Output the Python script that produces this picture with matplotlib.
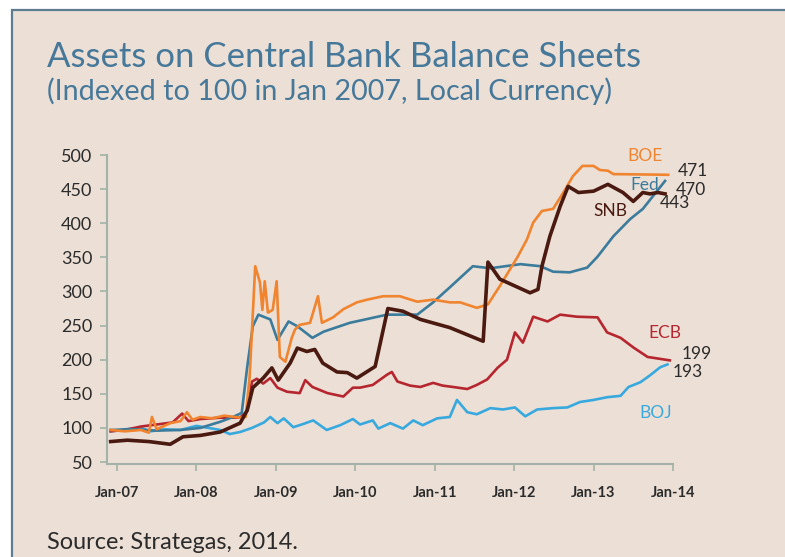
import matplotlib
matplotlib.use('Agg')
import matplotlib.pyplot as plt
from matplotlib import font_manager
from matplotlib.patches import Rectangle

# ---------------- data (decimal years, index values) ----------------
years = [2007, 2008, 2009, 2010, 2011, 2012, 2013, 2014]
year_labels = ["Jan-07", "Jan-08", "Jan-09", "Jan-10", "Jan-11", "Jan-12", "Jan-13", "Jan-14"]
y_ticks = [50, 100, 150, 200, 250, 300, 350, 400, 450, 500]

boj_t = [2006.92, 2007.1, 2007.3, 2007.42, 2007.6, 2007.8, 2008.0, 2008.15, 2008.3, 2008.42,
         2008.55, 2008.7, 2008.85, 2008.93, 2009.02, 2009.1, 2009.22, 2009.35, 2009.47, 2009.64,
         2009.81, 2009.97, 2010.06, 2010.22, 2010.29, 2010.44, 2010.6, 2010.73, 2010.85, 2011.03,
         2011.19, 2011.28, 2011.41, 2011.53, 2011.7, 2011.86, 2012.01, 2012.14, 2012.29, 2012.49,
         2012.67, 2012.83, 2013.0, 2013.17, 2013.34, 2013.44, 2013.59, 2013.71, 2013.84, 2013.93]
boj_v = [95, 98, 100, 95, 98, 97, 103, 100, 97, 91,
         94, 100, 108, 116, 107, 114, 101, 106, 111, 97,
         104, 113, 105, 111, 99, 107, 99, 111, 104, 114,
         116, 141, 123, 120, 129, 127, 130, 117, 127, 129,
         130, 138, 141, 145, 147, 160, 167, 177, 189, 193]

ecb_t = [2006.92, 2007.1, 2007.3, 2007.5, 2007.7, 2007.82, 2007.9, 2008.05, 2008.3, 2008.55,
         2008.64, 2008.70, 2008.76, 2008.84, 2008.93, 2009.02, 2009.14, 2009.3, 2009.37, 2009.46,
         2009.65, 2009.85, 2009.97, 2010.06, 2010.22, 2010.4, 2010.46, 2010.53, 2010.69, 2010.82,
         2010.98, 2011.1, 2011.23, 2011.41, 2011.53, 2011.66, 2011.79, 2011.91, 2012.01, 2012.11,
         2012.24, 2012.42, 2012.58, 2012.79, 2013.05, 2013.17, 2013.34, 2013.5, 2013.68, 2013.96]
ecb_v = [95, 97, 102, 105, 108, 121, 110, 113, 115, 115,
         125, 168, 172, 165, 173, 159, 153, 151, 170, 160,
         151, 146, 159, 159, 163, 178, 182, 168, 162, 160,
         166, 162, 160, 157, 163, 171, 188, 200, 240, 225,
         263, 256, 266, 263, 262, 240, 232, 218, 204, 199]

boe_t = [2006.92, 2007.1, 2007.3, 2007.4, 2007.44, 2007.5, 2007.67, 2007.8, 2007.88, 2007.95,
         2008.05, 2008.2, 2008.35, 2008.55, 2008.62, 2008.67, 2008.74, 2008.80, 2008.83, 2008.86,
         2008.90, 2008.96, 2009.01, 2009.05, 2009.12, 2009.2, 2009.24, 2009.3, 2009.43, 2009.53,
         2009.58, 2009.72, 2009.85, 2010.02, 2010.15, 2010.35, 2010.56, 2010.78, 2010.98, 2011.19,
         2011.32, 2011.53, 2011.67, 2011.82, 2012.04, 2012.16, 2012.24, 2012.35, 2012.49, 2012.62,
         2012.74, 2012.86, 2013.0, 2013.08, 2013.18, 2013.25, 2013.94]
boe_v = [97, 95, 97, 93, 116, 98, 107, 110, 123, 112,
         116, 114, 118, 115, 116, 175, 337, 313, 273, 315,
         269, 273, 315, 204, 197, 232, 244, 251, 254, 293,
         254, 262, 274, 284, 288, 293, 293, 285, 288, 284,
         284, 276, 281, 308, 350, 376, 401, 418, 421, 445,
         469, 484, 484, 478, 477, 472, 471]

fed_t = [2006.92, 2007.2, 2007.5, 2007.8, 2008.05, 2008.3, 2008.46, 2008.57, 2008.64, 2008.71,
         2008.78, 2008.93, 2009.02, 2009.16, 2009.27, 2009.46, 2009.6, 2009.93, 2010.4, 2010.78,
         2010.98, 2011.19, 2011.48, 2011.7, 2012.08, 2012.33, 2012.49, 2012.7, 2012.92, 2013.05,
         2013.25, 2013.46, 2013.62, 2013.75, 2013.9]
fed_v = [97, 98, 96, 97, 100, 109, 116, 122, 190, 249,
         266, 259, 229, 256, 249, 232, 241, 254, 266, 266,
         284, 306, 337, 334, 340, 337, 329, 328, 335, 351,
         381, 406, 421, 440, 462]

snb_t = [2006.92, 2007.13, 2007.4, 2007.67, 2007.83, 2008.05, 2008.3, 2008.55, 2008.64, 2008.71,
         2008.84, 2008.95, 2009.03, 2009.18, 2009.27, 2009.39, 2009.49, 2009.59, 2009.77, 2009.9,
         2010.02, 2010.25, 2010.41, 2010.6, 2010.82, 2011.19, 2011.61, 2011.67, 2011.82, 2012.2,
         2012.3, 2012.35, 2012.45, 2012.58, 2012.68, 2012.81, 2013.0, 2013.18, 2013.37, 2013.5,
         2013.62, 2013.71, 2013.81, 2013.9]
snb_v = [80, 82, 80, 76, 87, 89, 94, 107, 126, 159,
         173, 188, 170, 195, 217, 212, 215, 195, 182, 181,
         173, 190, 275, 271, 259, 247, 227, 343, 318, 298,
         303, 337, 381, 425, 454, 445, 447, 457, 445, 432,
         445, 443, 445, 443]

end_labels = ["471", "470", "443", "199", "193"]

# ---------------- styling ----------------
W, H = 785, 557
BG = '#ecdfd6'
FRAME = '#5d7b91'
TITLE_C = '#46789a'
SPINE_C = '#a3b3a8'
TXT_C = '#2b2b2b'
C_BOE, C_FED, C_SNB, C_ECB, C_BOJ = '#f0842f', '#3b7b9c', '#4a1a10', '#b5262e', '#38a9de'

avail = {f.name for f in font_manager.fontManager.ttflist}
def pick(*names):
    for n in names:
        if n in avail:
            return n
    return 'DejaVu Sans'
FONT = pick('Lato', 'Open Sans', 'Noto Sans', 'DejaVu Sans')

plt.rcParams['font.family'] = [FONT, 'DejaVu Sans']

fig = plt.figure(figsize=(W / 100, H / 100), dpi=100)
fig.patch.set_facecolor('white')
fig.add_artist(Rectangle((12 / W, -0.1), 1.2, (H - 10) / H + 0.1,
                         transform=fig.transFigure, facecolor=BG,
                         edgecolor=FRAME, linewidth=1.6, zorder=-10))

ax = fig.add_axes([107 / W, 1 - 464 / H, (673 - 107) / W, (464 - 155) / H])
ax.patch.set_alpha(0)
ax.set_xlim(2006.874, 2014.0)
ax.set_ylim(47.1, 500)

lw = 1.9
ax.plot(boj_t, boj_v, color=C_BOJ, lw=lw, zorder=2)
ax.plot(ecb_t, ecb_v, color=C_ECB, lw=lw, zorder=3)
ax.plot(fed_t, fed_v, color=C_FED, lw=lw, zorder=4)
ax.plot(boe_t, boe_v, color=C_BOE, lw=lw, zorder=5)
ax.plot(snb_t, snb_v, color=C_SNB, lw=2.6, zorder=6)

for s in ['top', 'right']:
    ax.spines[s].set_visible(False)
for s in ['left', 'bottom']:
    ax.spines[s].set_color(SPINE_C)
    ax.spines[s].set_linewidth(1.5)

ax.set_yticks(y_ticks)
ax.set_yticklabels([str(v) for v in y_ticks])
ax.set_xticks(years)
ax.set_xticklabels(year_labels)
ax.tick_params(axis='y', length=5, width=1.2, color=SPINE_C, pad=5.5,
               labelsize=13, labelcolor=TXT_C)
ax.tick_params(axis='x', length=5, width=1.2, color=SPINE_C, pad=11,
               labelsize=10.5, labelcolor=TXT_C)
for lab in ax.get_xticklabels():
    lab.set_fontweight('bold')

# series labels
fs = 12.5
ax.text(2013.65, 498.5, "BOE", color=C_BOE, fontsize=fs, ha='center', va='center')
ax.text(2013.65, 456, "Fed", color=C_FED, fontsize=fs, ha='center', va='center')
ax.text(2013.21, 418, "SNB", color=C_SNB, fontsize=fs, ha='center', va='center')
ax.text(2013.90, 239, "ECB", color=C_ECB, fontsize=fs, ha='center', va='center')
ax.text(2013.78, 122, "BOJ", color=C_BOJ, fontsize=fs, ha='center', va='center')
ax.text(2014.25, 476.5, end_labels[0], color=TXT_C, fontsize=fs, ha='center', va='center', clip_on=False)
ax.text(2014.23, 449, end_labels[1], color=TXT_C, fontsize=fs, ha='center', va='center', clip_on=False)
ax.text(2014.02, 430, end_labels[2], color=TXT_C, fontsize=fs, ha='center', va='center', clip_on=False)
ax.text(2014.30, 208, end_labels[3], color=TXT_C, fontsize=fs, ha='center', va='center', clip_on=False)
ax.text(2014.18, 182, end_labels[4], color=TXT_C, fontsize=fs, ha='center', va='center', clip_on=False)

# titles and source
title = fig.text(47 / W, 1 - 67 / H, "Assets on Central Bank Balance Sheets",
                 color=TITLE_C, fontsize=25, ha='left', va='baseline')
sub = fig.text(47 / W, 1 - 100 / H, "(Indexed to 100 in Jan 2007, Local Currency)",
               color=TITLE_C, fontsize=19, ha='left', va='baseline')
src = fig.text(47 / W, 1 - 549 / H, "Source: Strategas, 2014.",
               color=TXT_C, fontsize=13, ha='left', va='baseline')

def fit(t, target_px):
    r = fig.canvas.get_renderer()
    w = t.get_window_extent(r).width
    t.set_fontsize(t.get_fontsize() * target_px / w)

fig.canvas.draw()
fit(title, 594)
fit(sub, 565)
fit(src, 250)

fig.savefig('out.png', dpi=100, facecolor=fig.get_facecolor())
